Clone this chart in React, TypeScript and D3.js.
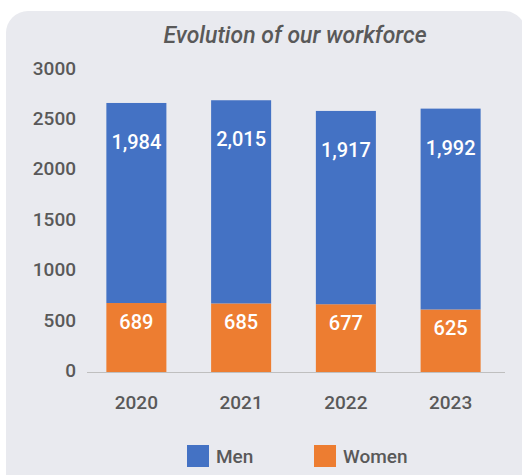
import React, { useRef, useEffect } from "react";
import * as d3 from "d3";

const years = ["2020", "2021", "2022", "2023"];
const women = [689, 685, 677, 625];
const men = [1984, 2015, 1917, 1992];
const yTicks = [0, 500, 1000, 1500, 2000, 2500, 3000];
const seriesNames = ["Men", "Women"];
const seriesColours = ["#4472C4", "#ED7D31"];

const FONT = "Roboto, 'DejaVu Sans', sans-serif";

const App = () => {
    const svgRef = useRef<SVGSVGElement | null>(null);

    useEffect(() => {
        if (!svgRef.current) return;
        const width = 522;
        const height = 475;

        const svg = d3.select(svgRef.current);
        svg.selectAll("*").remove();
        svg.attr("width", width).attr("height", height);

        // panel
        svg.append("rect")
            .attr("x", 6)
            .attr("y", 11)
            .attr("width", 520)
            .attr("height", 490)
            .attr("rx", 22)
            .attr("fill", "#E9EAEF");

        svg.append("text")
            .attr("x", 295)
            .attr("y", 35)
            .attr("dy", "0.35em")
            .attr("text-anchor", "middle")
            .style("font-family", FONT)
            .style("font-style", "italic")
            .style("font-weight", 500)
            .style("font-size", "23px")
            .style("fill", "#595959")
            .text("Evolution of our workforce");

        const x = d3.scaleBand()
            .domain(years)
            .range([84, 503])
            .paddingInner(0.427)
            .paddingOuter(0.2135);

        const y = d3.scaleLinear()
            .domain([0, 3000])
            .range([372.5, 70]);

        // y tick labels
        svg.append("g")
            .selectAll("text")
            .data(yTicks)
            .enter().append("text")
            .attr("x", 76)
            .attr("y", d => y(d) - 2)
            .attr("dy", "0.35em")
            .attr("text-anchor", "end")
            .style("font-family", FONT)
            .style("font-weight", 500)
            .style("font-size", "19px")
            .style("fill", "#595959")
            .text(d => d);

        const rows = years.map((yr, i) => ({ year: yr, women: women[i], men: men[i] }));

        // women (bottom)
        svg.append("g")
            .selectAll("rect")
            .data(rows)
            .enter().append("rect")
            .attr("x", d => x(d.year)!)
            .attr("width", x.bandwidth())
            .attr("y", d => y(d.women))
            .attr("height", d => y(0) - y(d.women))
            .attr("fill", seriesColours[1]);

        // men (top)
        svg.append("g")
            .selectAll("rect")
            .data(rows)
            .enter().append("rect")
            .attr("x", d => x(d.year)!)
            .attr("width", x.bandwidth())
            .attr("y", d => y(d.women + d.men))
            .attr("height", d => y(d.women) - y(d.women + d.men))
            .attr("fill", seriesColours[0]);

        const fmt = d3.format(",");

        svg.append("g")
            .selectAll("text")
            .data(rows)
            .enter().append("text")
            .attr("x", d => x(d.year)! + x.bandwidth() / 2)
            .attr("y", d => y(d.women + d.men) + 39)
            .attr("dy", "0.35em")
            .attr("text-anchor", "middle")
            .style("font-family", FONT)
            .style("font-weight", 500)
            .style("font-size", "20px")
            .style("fill", "white")
            .text(d => fmt(d.men));

        svg.append("g")
            .selectAll("text")
            .data(rows)
            .enter().append("text")
            .attr("x", d => x(d.year)! + x.bandwidth() / 2)
            .attr("y", d => y(d.women) + 19)
            .attr("dy", "0.35em")
            .attr("text-anchor", "middle")
            .style("font-family", FONT)
            .style("font-weight", 500)
            .style("font-size", "20px")
            .style("fill", "white")
            .text(d => fmt(d.women));

        // baseline
        svg.append("line")
            .attr("x1", 87)
            .attr("x2", 505)
            .attr("y1", y(0))
            .attr("y2", y(0))
            .attr("stroke", "#BFBFBF")
            .attr("stroke-width", 1);

        // x labels
        svg.append("g")
            .selectAll("text")
            .data(years)
            .enter().append("text")
            .attr("x", d => x(d)! + x.bandwidth() / 2)
            .attr("y", 402)
            .attr("dy", "0.35em")
            .attr("text-anchor", "middle")
            .style("font-family", FONT)
            .style("font-weight", 500)
            .style("font-size", "19px")
            .style("fill", "#595959")
            .text(d => d);

        // legend
        const legendX = [187, 314];
        const legend = svg.selectAll(".legend")
            .data(seriesNames)
            .enter().append("g")
            .attr("class", "legend")
            .attr("transform", (d, i) => `translate(${legendX[i]},445)`);

        legend.append("rect")
            .attr("width", 22)
            .attr("height", 22)
            .attr("fill", (d, i) => seriesColours[i]);

        legend.append("text")
            .attr("x", 29)
            .attr("y", 11)
            .attr("dy", "0.35em")
            .style("font-family", FONT)
            .style("font-weight", 500)
            .style("font-size", "19px")
            .style("fill", "#595959")
            .text(d => d);
    }, []);

    return (
        <div style={{ position: "absolute", left: 0, top: 0 }}>
            <svg ref={svgRef} style={{ display: "block" }}></svg>
        </div>
    );
};

export default App;
